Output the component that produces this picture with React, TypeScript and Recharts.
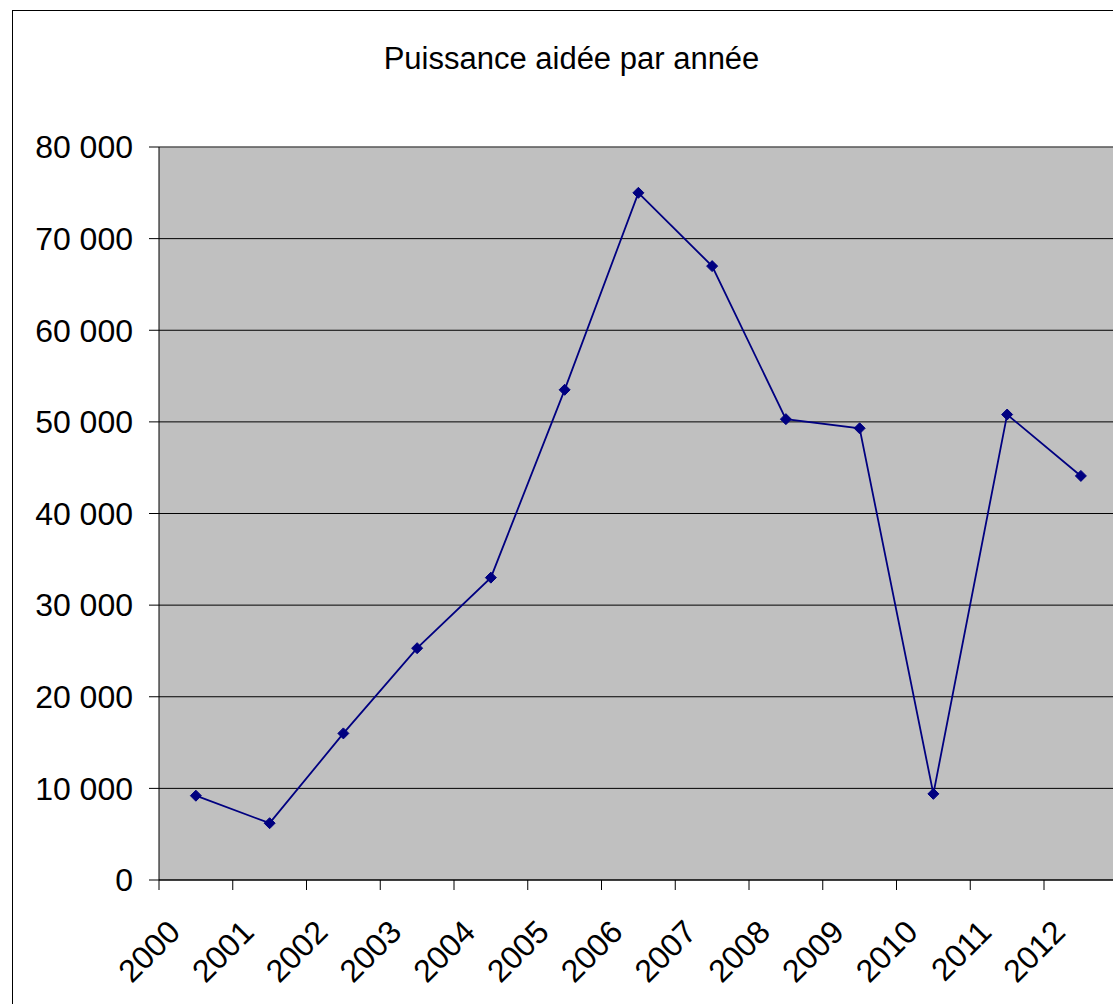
import { LineChart, Line, XAxis, YAxis, CartesianGrid, ReferenceLine } from "recharts";

const years = ["2000", "2001", "2002", "2003", "2004", "2005", "2006", "2007", "2008", "2009", "2010", "2011", "2012"];
const puissance = [9200, 6200, 16000, 25300, 33000, 53500, 75000, 67000, 50300, 49300, 9400, 50800, 44100];
const yTicks = [0, 10000, 20000, 30000, 40000, 50000, 60000, 70000, 80000];
const title = "Puissance aidée par année";

// points sit in the middle of each year slot, ticks on the slot edges
const data = years.map((year, i) => ({ pos: i + 0.5, year, value: puissance[i] }));
const slotTicks = years.map((_, i) => i);

const font = '"Liberation Sans", Arial, sans-serif';

const fmt = (v: number) => String(v).replace(/\B(?=(\d{3})+(?!\d))/g, " ");

function YearTick(props: any) {
  const { x, payload } = props;
  const label = years[payload.value];
  if (label === undefined) return null;
  return (
    <text
      transform={`translate(${x + 23},934) rotate(-45)`}
      textAnchor="end"
      fontSize={32}
      fontFamily={font}
      fill="#000"
    >
      {label}
    </text>
  );
}

function Diamond(props: any) {
  const { cx, cy } = props;
  if (cx == null || cy == null) return null;
  const r = 5.5;
  return (
    <polygon
      points={`${cx},${cy - r} ${cx + r},${cy} ${cx},${cy + r} ${cx - r},${cy}`}
      fill="#000080"
      stroke="#000080"
      strokeWidth={1}
    />
  );
}

export default function App() {
  return (
    <div
      style={{
        position: "fixed",
        left: 0,
        top: 0,
        width: 1113,
        height: 1004,
        overflow: "hidden",
        background: "#fff",
      }}
    >
      <div
        style={{
          position: "absolute",
          left: 12,
          top: 10,
          width: 1200,
          height: 1100,
          border: "1px solid #000",
          boxSizing: "border-box",
        }}
      />
      <svg width={1113} height={120} style={{ position: "absolute", left: 0, top: 0 }}>
        <text x={571.5} y={69} textAnchor="middle" fontSize={31} fontFamily={font} fill="#000">
          {title}
        </text>
      </svg>
      <div style={{ position: "absolute", left: 0, top: 0 }}>
        <LineChart
          width={1200}
          height={1004}
          data={data}
          margin={{ top: 147, right: 82.25, bottom: 64, left: 0 }}
        >
          <CartesianGrid vertical={false} stroke="#000" fill="#C0C0C0" fillOpacity={1} />
          <ReferenceLine y={80000} stroke="#808080" />
          <XAxis
            type="number"
            dataKey="pos"
            domain={[0, 13]}
            ticks={slotTicks}
            interval={0}
            height={60}
            tickSize={10}
            axisLine={{ stroke: "#000" }}
            tickLine={{ stroke: "#000" }}
            tick={<YearTick />}
          />
          <YAxis
            type="number"
            domain={[0, 80000]}
            ticks={yTicks}
            interval={0}
            width={159}
            tickSize={10}
            tickMargin={16}
            tickFormatter={fmt}
            axisLine={{ stroke: "#000" }}
            tickLine={{ stroke: "#000" }}
            tick={{ fill: "#000", fontSize: 32, fontFamily: font }}
          />
          <Line
            type="linear"
            dataKey="value"
            stroke="#000080"
            strokeWidth={1.8}
            dot={<Diamond />}
            activeDot={false}
            isAnimationActive={false}
          />
        </LineChart>
      </div>
    </div>
  );
}
